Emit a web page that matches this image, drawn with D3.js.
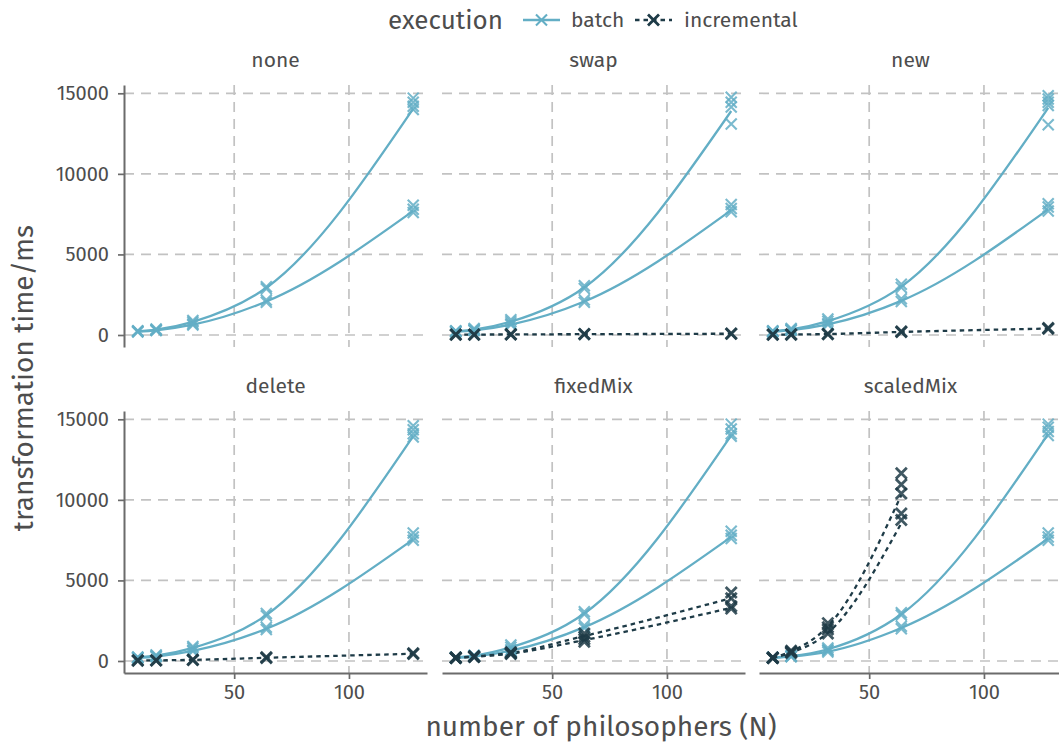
<!DOCTYPE html>
<html>
<head>
<meta charset="utf-8">
<script src="https://cdn.jsdelivr.net/npm/d3@7"></script>
<style>
  body { margin: 0; background: #fff; }
  text { font-family: "Fira Sans", "Open Sans", "Noto Sans", sans-serif; fill: #4d4d4d; }
</style>
</head>
<body>
<svg id="chart" width="1059" height="745"></svg>
<script>
// x values: number of philosophers
const N = [8, 16, 32, 64, 128];
const panelNames = ["none", "swap", "new", "delete", "fixedMix", "scaledMix"];
const executions = ["batch", "incremental"];
const yTicks = [0, 5000, 10000, 15000];
const xTicks = [50, 100];

// smoothed line values and the single runs per N
const noneBatchHiFit = [240, 340, 820, 2930, 14050];
const noneBatchHiRuns = [[260, 230], [370, 330], [900, 800], [3000, 2870], [14700, 14450, 14200, 14000]];
const noneBatchLoFit = [200, 290, 640, 2080, 7700];
const noneBatchLoRuns = [[210, 190], [300, 280], [680, 620], [2170, 2030], [8050, 7800, 7600]];

const swapBatchHiFit = [240, 340, 830, 2950, 13900];
const swapBatchHiRuns = [[270, 230], [400, 340], [950, 820], [3050, 2880], [14750, 14450, 14150, 13100]];
const swapBatchLoFit = [200, 290, 650, 2080, 7750];
const swapBatchLoRuns = [[210, 190], [300, 280], [690, 630], [2180, 2030], [8100, 7850, 7650]];
const swapIncFit = [20, 25, 35, 50, 80];
const swapIncRuns = [[30, 10], [30, 20], [40, 30], [60, 40], [90, 70]];

const newBatchHiFit = [240, 350, 860, 3000, 14100];
const newBatchHiRuns = [[270, 230], [410, 340], [1000, 850], [3150, 2950], [14850, 14650, 14450, 14250, 13050]];
const newBatchLoFit = [200, 300, 660, 2120, 7800];
const newBatchLoRuns = [[210, 190], [310, 290], [700, 640], [2250, 2080], [8150, 7950, 7700]];
const newIncFit = [20, 30, 60, 190, 400];
const newIncRuns = [[30, 10], [40, 20], [70, 50], [220, 180], [430, 390]];

const deleteBatchHiFit = [230, 340, 820, 2850, 13950];
const deleteBatchHiRuns = [[250, 220], [380, 330], [900, 800], [2950, 2800], [14600, 14350, 14100, 13900]];
const deleteBatchLoFit = [190, 280, 630, 2000, 7550];
const deleteBatchLoRuns = [[200, 180], [290, 270], [670, 610], [2100, 1950], [7950, 7700, 7500]];
const deleteIncFit = [30, 40, 70, 200, 450];
const deleteIncRuns = [[40, 20], [50, 30], [80, 60], [230, 190], [480, 430]];

const fixedBatchHiFit = [220, 330, 850, 2950, 14000];
const fixedBatchHiRuns = [[240, 210], [360, 320], [1000, 850], [3050, 2900], [14700, 14400, 14100, 13950]];
const fixedBatchLoFit = [190, 280, 640, 2100, 7700];
const fixedBatchLoRuns = [[200, 180], [300, 270], [690, 620], [2200, 2050], [8050, 7800, 7600]];
const fixedIncHiFit = [200, 280, 500, 1550, 3900];
const fixedIncHiRuns = [[220, 190], [300, 270], [540, 480], [1700, 1500], [4250, 3900]];
const fixedIncLoFit = [190, 260, 460, 1300, 3300];
const fixedIncLoRuns = [[200, 180], [280, 250], [500, 440], [1350, 1200], [3400, 3250]];

const scaledBatchHiFit = [210, 300, 730, 2900, 14100];
const scaledBatchHiRuns = [[230, 200], [330, 290], [800, 700], [3000, 2850], [14700, 14500, 14250, 14000]];
const scaledBatchLoFit = [190, 270, 580, 2050, 7600];
const scaledBatchLoRuns = [[200, 180], [290, 260], [650, 560], [2150, 2000], [7950, 7700, 7500]];
const scaledIncHiFit = [200, 600, 2150, 10300];
const scaledIncHiRuns = [[220, 190], [640, 570], [2350, 2100], [11650, 10950, 10400]];
const scaledIncLoFit = [190, 520, 1750, 8550];
const scaledIncLoRuns = [[200, 180], [560, 500], [1950, 1700], [9150, 8750]];

// series per panel
const series = {
  none: [["batch", noneBatchHiFit, noneBatchHiRuns], ["batch", noneBatchLoFit, noneBatchLoRuns]],
  swap: [["batch", swapBatchHiFit, swapBatchHiRuns], ["batch", swapBatchLoFit, swapBatchLoRuns],
         ["incremental", swapIncFit, swapIncRuns]],
  new: [["batch", newBatchHiFit, newBatchHiRuns], ["batch", newBatchLoFit, newBatchLoRuns],
        ["incremental", newIncFit, newIncRuns]],
  delete: [["batch", deleteBatchHiFit, deleteBatchHiRuns], ["batch", deleteBatchLoFit, deleteBatchLoRuns],
           ["incremental", deleteIncFit, deleteIncRuns]],
  fixedMix: [["batch", fixedBatchHiFit, fixedBatchHiRuns], ["batch", fixedBatchLoFit, fixedBatchLoRuns],
             ["incremental", fixedIncHiFit, fixedIncHiRuns], ["incremental", fixedIncLoFit, fixedIncLoRuns]],
  scaledMix: [["batch", scaledBatchHiFit, scaledBatchHiRuns], ["batch", scaledBatchLoFit, scaledBatchLoRuns],
              ["incremental", scaledIncHiFit, scaledIncHiRuns], ["incremental", scaledIncLoFit, scaledIncLoRuns]],
};

const colors = { batch: "#63aec5", incremental: "#1e3b47" };
const dashes = { batch: null, incremental: "4.5,4" };

// layout
const panelW = 303, panelH = 262;
const colLeft = [124, 442, 759];
const rowTop = [85, 411];

const x = d3.scaleLinear().domain([2, 134]).range([0, panelW]);
const y = d3.scaleLinear().domain([-745, 15515]).range([panelH, 0]);

const svg = d3.select("#chart");
svg.append("rect").attr("width", 1059).attr("height", 745).attr("fill", "#fff");

const cross = (s) => `M${-s},${-s}L${s},${s}M${-s},${s}L${s},${-s}`;

const line = d3.line()
  .x((d) => x(d[0]))
  .y((d) => y(d[1]))
  .curve(d3.curveMonotoneX);

const fontFamily = '"Fira Sans", "Open Sans", "Noto Sans", sans-serif';

panelNames.forEach((name, i) => {
  const row = Math.floor(i / 3), col = i % 3;
  const g = svg.append("g").attr("transform", `translate(${colLeft[col]},${rowTop[row]})`);

  // grid
  g.append("g").selectAll("line").data(yTicks).join("line")
    .attr("x1", 0).attr("x2", panelW)
    .attr("y1", (d) => y(d)).attr("y2", (d) => y(d))
    .attr("stroke", "#c2c2c2").attr("stroke-width", 1.7).attr("stroke-dasharray", "10,7");
  g.append("g").selectAll("line").data(xTicks).join("line")
    .attr("y1", 0).attr("y2", panelH)
    .attr("x1", (d) => x(d)).attr("x2", (d) => x(d))
    .attr("stroke", "#c2c2c2").attr("stroke-width", 1.7).attr("stroke-dasharray", "10,7");

  // strip label
  svg.append("text")
    .attr("x", colLeft[col] + panelW / 2).attr("y", rowTop[row] - 18)
    .attr("text-anchor", "middle").attr("font-size", 21).text(name);

  const ss = series[name];

  // smoothed lines
  g.append("g").selectAll("path").data(ss).join("path")
    .attr("d", (s) => line(s[1].map((v, k) => [N[k], v])))
    .attr("fill", "none")
    .attr("stroke", (s) => colors[s[0]])
    .attr("stroke-width", 2.3)
    .attr("stroke-dasharray", (s) => dashes[s[0]]);

  // single runs
  const pts = [];
  ss.forEach((s) => s[2].forEach((runs, k) => runs.forEach((v) => pts.push([s[0], N[k], v]))));
  g.append("g").selectAll("path").data(pts).join("path")
    .attr("transform", (d) => `translate(${x(d[1])},${y(d[2])})`)
    .attr("d", cross(5.5))
    .attr("fill", "none")
    .attr("stroke", (d) => colors[d[0]])
    .attr("stroke-width", (d) => (d[0] === "batch" ? 2.1 : 2.8))
    .attr("opacity", 0.85);

  // axes
  if (col === 0) {
    const ay = g.append("g").call(d3.axisLeft(y).tickValues(yTicks).tickFormat(d3.format("d"))
      .tickSize(6).tickSizeOuter(0).tickPadding(9));
    ay.select(".domain").attr("stroke", "#6b6b6b").attr("stroke-width", 2);
    ay.selectAll(".tick line").attr("stroke", "#6b6b6b").attr("stroke-width", 1.7);
    ay.selectAll(".tick text").attr("font-size", 20).attr("fill", "#4d4d4d")
      .style("font-family", fontFamily);
  }
  if (row === 1) {
    const ax = g.append("g").attr("transform", `translate(0,${panelH})`)
      .call(d3.axisBottom(x).tickValues(xTicks).tickSize(6).tickSizeOuter(0).tickPadding(6));
    ax.select(".domain").attr("stroke", "#6b6b6b").attr("stroke-width", 2);
    ax.selectAll(".tick line").attr("stroke", "#6b6b6b").attr("stroke-width", 1.7);
    ax.selectAll(".tick text").attr("font-size", 20).attr("fill", "#4d4d4d")
      .style("font-family", fontFamily);
  }
});

// axis titles
svg.append("text")
  .attr("x", 601).attr("y", 736)
  .attr("text-anchor", "middle").attr("font-size", 28)
  .text("number of philosophers (N)");
svg.append("text")
  .attr("transform", "translate(23,378) rotate(-90)")
  .attr("dy", "0.35em")
  .attr("text-anchor", "middle").attr("font-size", 28)
  .text("transformation time/ms");

// legend
const legend = svg.append("g");
legend.append("text").attr("x", 388).attr("y", 29).attr("font-size", 26).text("execution");
const keys = [
  { exec: executions[0], x0: 523, tx: 571 },
  { exec: executions[1], x0: 635, tx: 684 },
];
keys.forEach((k) => {
  legend.append("line")
    .attr("x1", k.x0).attr("x2", k.x0 + 37).attr("y1", 20).attr("y2", 20)
    .attr("stroke", colors[k.exec]).attr("stroke-width", 2.3)
    .attr("stroke-dasharray", dashes[k.exec]);
  legend.append("path")
    .attr("transform", `translate(${k.x0 + 18.5},20)`)
    .attr("d", cross(5.5)).attr("fill", "none")
    .attr("stroke", colors[k.exec]).attr("stroke-width", k.exec === "batch" ? 2.1 : 2.8);
  legend.append("text").attr("x", k.tx).attr("y", 27).attr("font-size", 21).text(k.exec);
});
</script>
</body>
</html>
